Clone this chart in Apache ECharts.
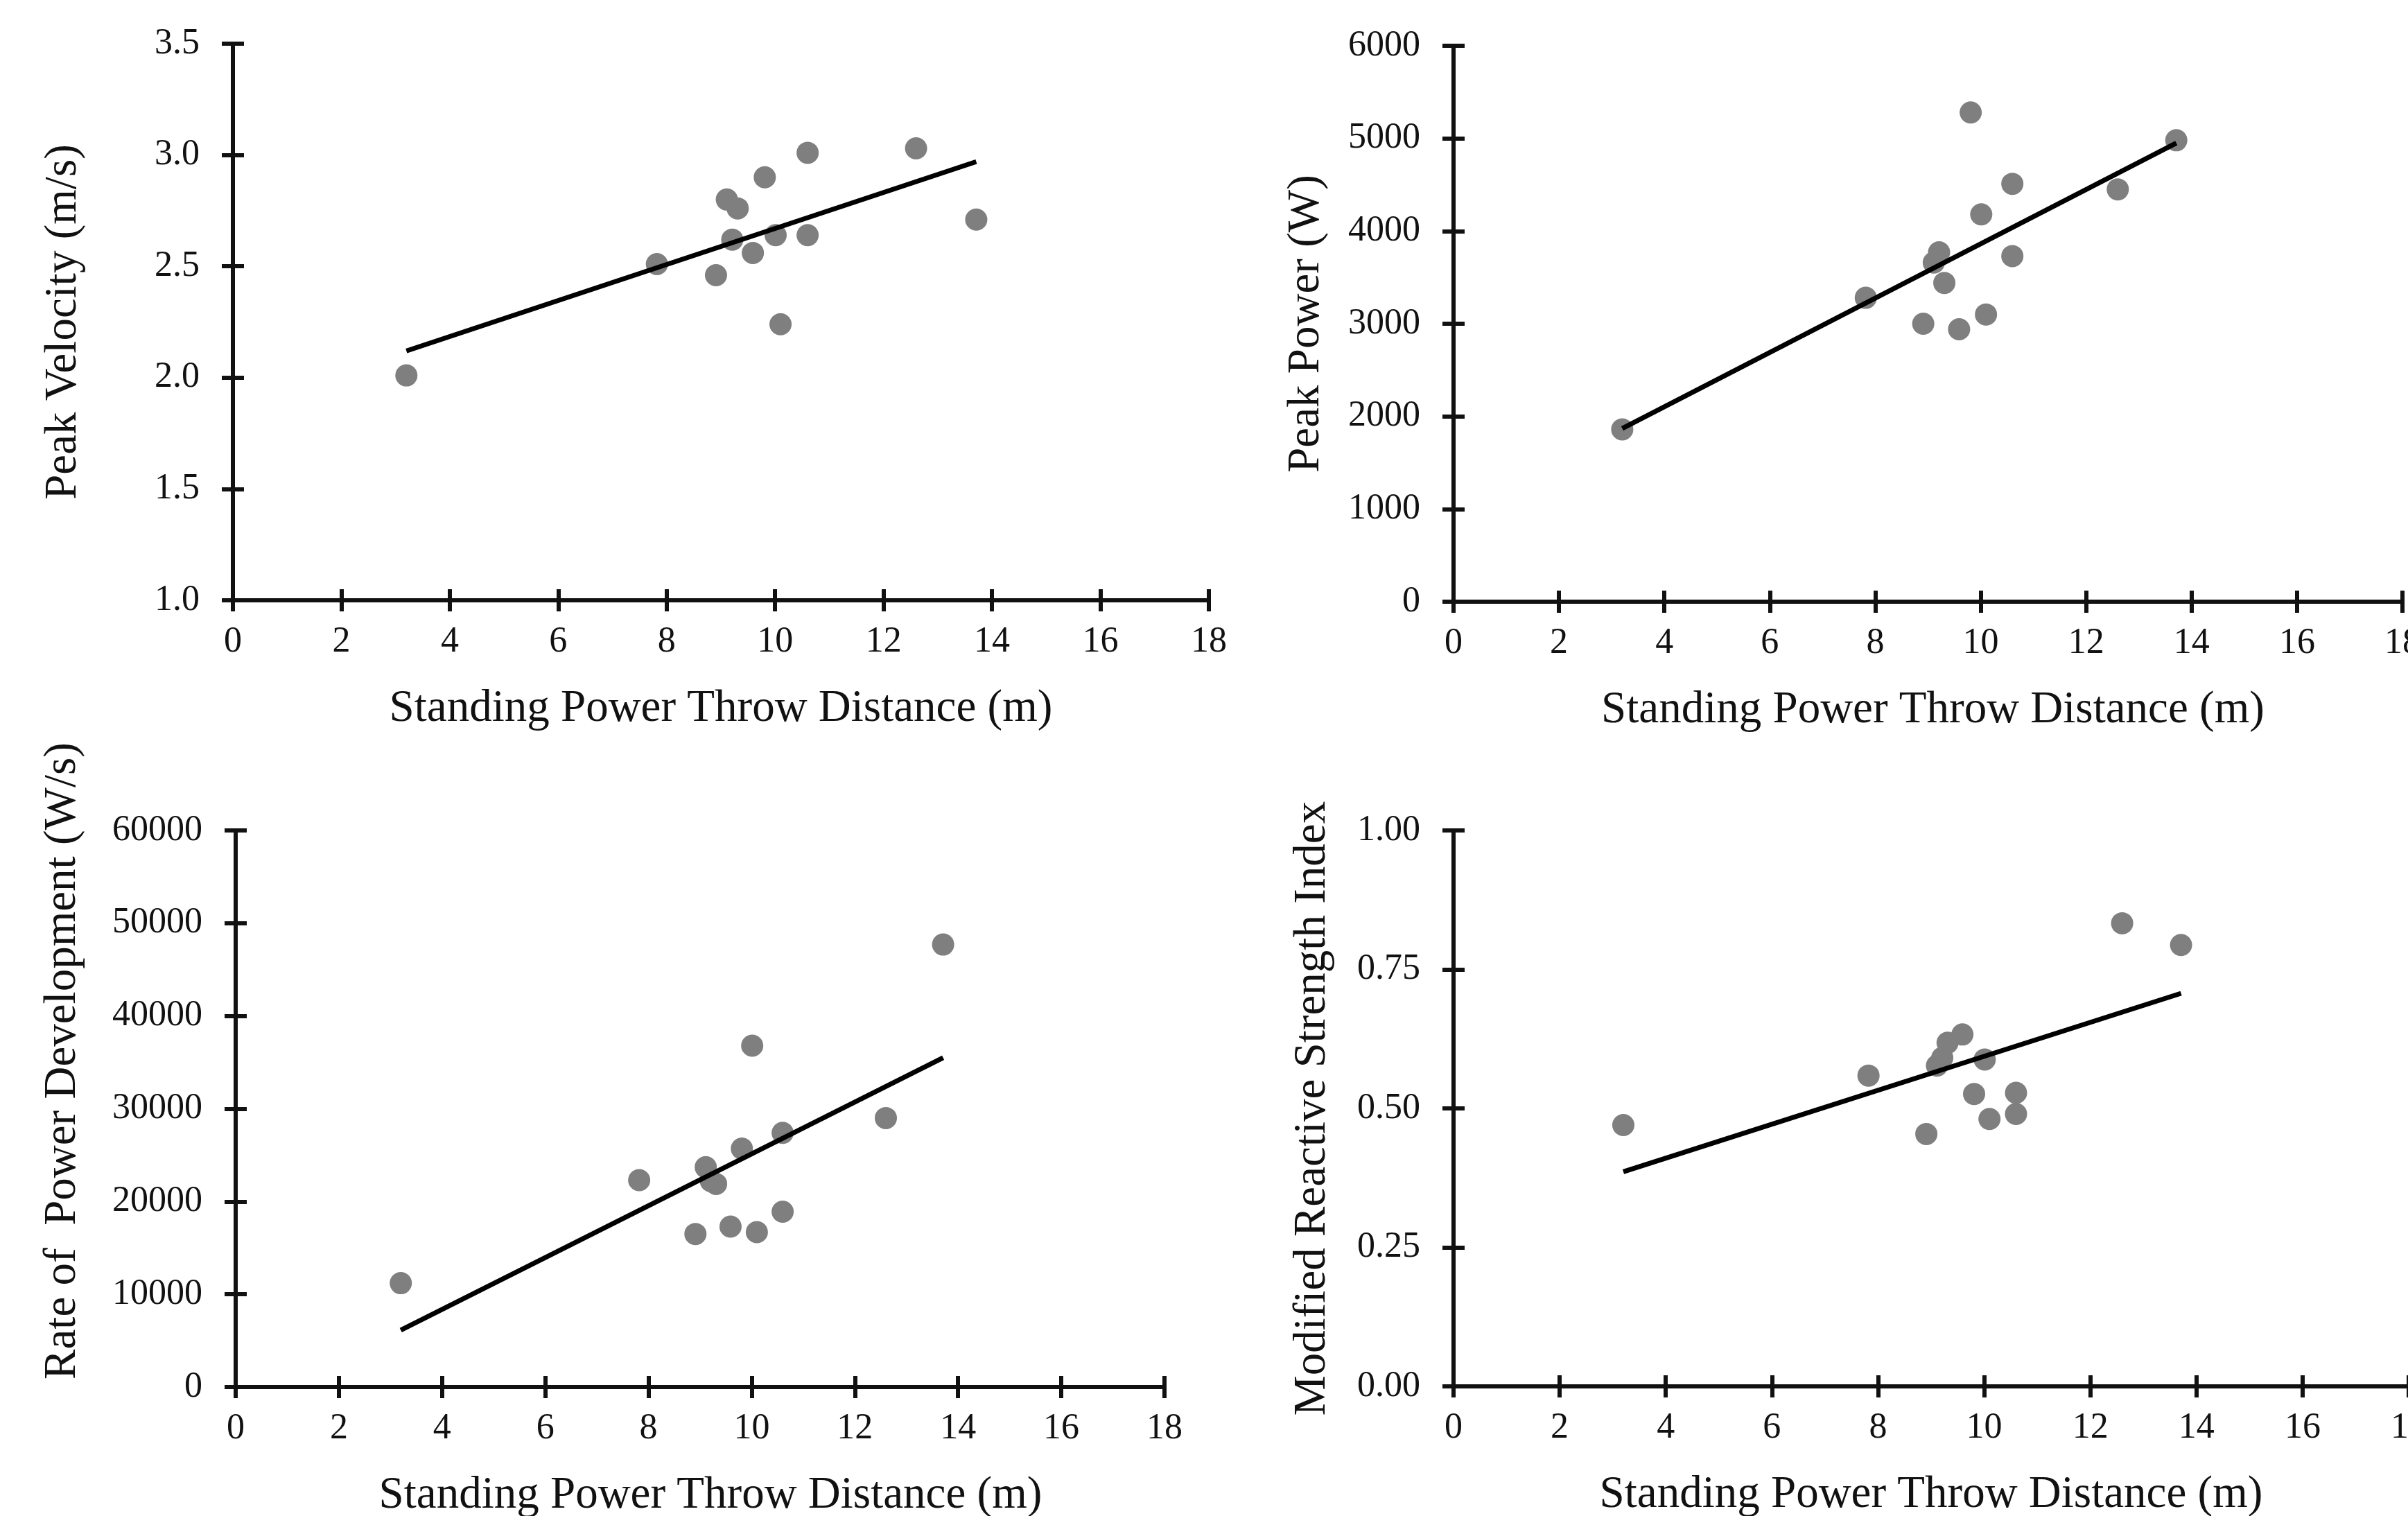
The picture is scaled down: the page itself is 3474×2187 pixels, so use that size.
<!DOCTYPE html>
<html>
<head>
<meta charset="utf-8">
<script src="https://cdn.jsdelivr.net/npm/echarts@6/dist/echarts.min.js"></script>
<style>
  html, body { margin: 0; padding: 0; background: #fff; }
  #chart { width: 3474px; height: 2187px; }
</style>
</head>
<body>
<div id="chart"></div>
<script>
// standing power throw distance (m), same athletes in all four panels
const throwDistance = [3.2, 7.82, 8.91, 9.11, 9.21, 9.31, 9.59, 9.81, 10.01, 10.1, 10.6, 10.6, 12.6, 13.71];

const peakVelocity = [2.01, 2.51, 2.46, 2.80, 2.62, 2.76, 2.56, 2.90, 2.64, 2.24, 3.01, 2.64, 3.03, 2.71];
const peakPower = [1860, 3280, 3000, 3660, 3770, 3440, 2940, 5280, 4180, 3100, 4510, 3730, 4450, 4980];
const rpd = [11200, 22300, 16500, 23700, 22200, 21900, 17300, 25700, 36800, 16700, 27400, 18900, 29000, 47700];
const rsiMod = [0.470, 0.559, 0.454, 0.577, 0.591, 0.618, 0.633, 0.526, 0.588, 0.481, 0.528, 0.490, 0.833, 0.794];

// trendline ends
const trendX = [3.2, 13.71];
const trendVelocity = [2.12, 2.97];
const trendPower = [1870, 4950];
const trendRpd = [6130, 35500];
const trendRsi = [0.386, 0.707];

const xTitle = 'Standing Power Throw Distance (m)';

const FONT = "'Liberation Serif', 'Times New Roman', serif";
const INK = '#111';

const panels = [
    { grid: { left: 336, top: 63, width: 1408, height: 803 },
      y: peakVelocity, trend: trendVelocity, name: 'Peak Velocity (m/s)',
      min: 1, max: 3.5, interval: 0.5, fmt: v => v.toFixed(1), gap: 212 },
    { grid: { left: 2097, top: 66, width: 1369, height: 802 },
      y: peakPower, trend: trendPower, name: 'Peak Power (W)',
      min: 0, max: 6000, interval: 1000, fmt: v => String(v), gap: 180, xPad: [0, 0, 0, 14] },
    { grid: { left: 340, top: 1198, width: 1340, height: 803 },
      y: rpd, trend: trendRpd, name: 'Rate of  Power Development (W/s)',
      min: 0, max: 60000, interval: 10000, fmt: v => String(v), gap: 217, pad: [0, 0, 0, 138], xPad: [0, 0, 0, 30] },
    { grid: { left: 2097, top: 1198, width: 1378, height: 802 },
      y: rsiMod, trend: trendRsi, name: 'Modified Reactive Strength Index',
      min: 0, max: 1, interval: 0.25, fmt: v => v.toFixed(2), gap: 171 }
];

const axisLine = { show: true, lineStyle: { color: INK, width: 6 } };
const tickOut = { show: true, inside: false, length: 16, lineStyle: { color: INK, width: 6 } };
const tickIn = { show: true, inside: true, length: 16, lineStyle: { color: INK, width: 6 } };

const grids = [], xAxes = [], yAxes = [], series = [];

panels.forEach((p, i) => {
    grids.push({ ...p.grid, outerBoundsMode: 'none', containLabel: false });

    // main x axis + a twin that only draws the inner half of the cross ticks
    xAxes.push({
        type: 'value', gridIndex: i, position: 'bottom', min: 0, max: 18, interval: 2,
        axisLine, axisTick: tickOut, splitLine: { show: false },
        axisLabel: { margin: 34, fontSize: 52, fontFamily: FONT, color: INK },
        name: xTitle, nameLocation: 'middle', nameGap: 124,
        nameTextStyle: { fontSize: 65, fontFamily: FONT, color: INK, padding: p.xPad || 0 }
    });
    xAxes.push({
        type: 'value', gridIndex: i, position: 'bottom', min: 0, max: 18, interval: 2,
        axisLine: { show: false }, axisTick: tickIn, axisLabel: { show: false }, splitLine: { show: false }
    });

    yAxes.push({
        type: 'value', gridIndex: i, position: 'left', min: p.min, max: p.max, interval: p.interval,
        axisLine, axisTick: tickOut, splitLine: { show: false },
        axisLabel: { margin: 48, fontSize: 52, fontFamily: FONT, color: INK, formatter: p.fmt },
        name: p.name, nameLocation: 'middle', nameGap: p.gap,
        nameTextStyle: { fontSize: 65, fontFamily: FONT, color: INK, padding: p.pad || 0 }
    });
    yAxes.push({
        type: 'value', gridIndex: i, position: 'left', min: p.min, max: p.max, interval: p.interval,
        axisLine: { show: false }, axisTick: tickIn, axisLabel: { show: false }, splitLine: { show: false }
    });

    series.push({
        type: 'scatter', xAxisIndex: 2 * i, yAxisIndex: 2 * i,
        symbolSize: 32, itemStyle: { color: '#7f7f7f', opacity: 1 },
        data: throwDistance.map((x, k) => [x, p.y[k]]), z: 2
    });
    series.push({
        type: 'line', xAxisIndex: 2 * i, yAxisIndex: 2 * i,
        showSymbol: false, symbol: 'none',
        lineStyle: { color: '#000', width: 7 },
        data: trendX.map((x, k) => [x, p.trend[k]]), z: 3
    });
});

const chart = echarts.init(document.getElementById('chart'));
chart.setOption({
    backgroundColor: '#fff',
    animation: false,
    grid: grids,
    xAxis: xAxes,
    yAxis: yAxes,
    series: series
});
</script>
</body>
</html>
